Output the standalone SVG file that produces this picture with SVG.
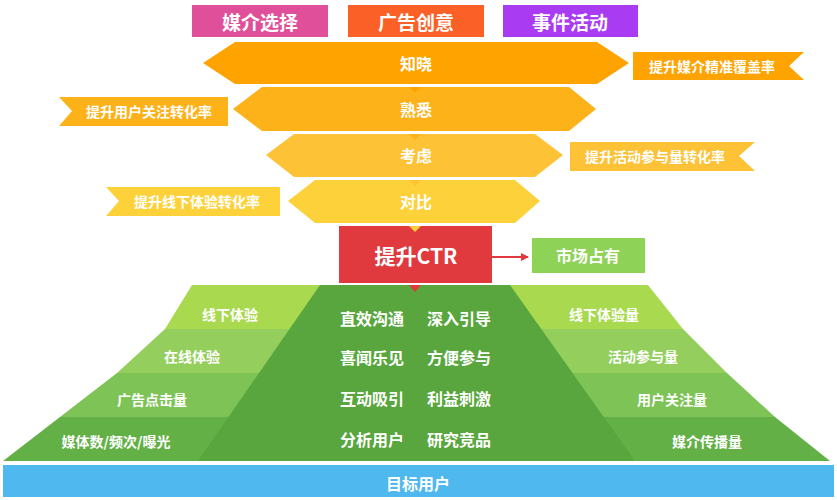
<svg xmlns="http://www.w3.org/2000/svg" width="837" height="500" viewBox="0 0 837 500">
<style>
text{font-family:"Noto Sans CJK SC","Noto Sans",sans-serif;font-weight:bold;fill:#fff;text-anchor:middle;dominant-baseline:central}
.t{font-size:19px}.m{font-size:16px}.s{font-size:14px}.c{font-size:16px}
</style>
<defs><marker id="ah" markerWidth="8" markerHeight="8" refX="7" refY="4" orient="auto" markerUnits="userSpaceOnUse"><path d="M0,0L8,4L0,8z" fill="#e0393e"/></marker></defs>
<g id="top-boxes">
<g id="media"><rect x="192" y="5" width="136" height="32" fill="#e0509a"/><text class="t" x="260" y="21">媒介选择</text></g>
<g id="creative"><rect x="348" y="5" width="136" height="32" fill="#fb6027"/><text class="t" x="416" y="21">广告创意</text></g>
<g id="event"><rect x="503" y="5" width="135" height="32" fill="#a93cf2"/><text class="t" x="570" y="21">事件活动</text></g>
</g>
<g id="funnel">
<g id="zhixiao"><polygon points="203,63 235,42 597,42 629,63 597,84 235,84" fill="#fea300"/><text class="m" x="416" y="63">知晓</text></g>
<g id="shuxi"><polygon points="233,109 262,87 569,87 596,109 569,131 262,131" fill="#fdb219"/><polygon points="409,87 421,87 415,93" fill="#fea300"/><text class="m" x="416" y="109">熟悉</text></g>
<g id="kaolv"><polygon points="266,155 294,134 535,134 563,155 535,177 294,177" fill="#fdc236"/><polygon points="409,134 421,134 415,140" fill="#fdb219"/><text class="m" x="416" y="155">考虑</text></g>
<g id="duibi"><polygon points="288,201 315,180 515,180 540,201 515,223 315,223" fill="#fdd13a"/><polygon points="409,180 421,180 415,186" fill="#fdc236"/><text class="m" x="416" y="201">对比</text></g>
</g>
<g id="side-labels">
<g id="l1"><polygon points="633,52 804,52 789,66 804,80 633,80" fill="#fea300"/><text class="s" x="712" y="66">提升媒介精准覆盖率</text></g>
<g id="l2"><polygon points="59,97 228,97 228,126 59,126 72,111" fill="#fdb219"/><text class="s" x="149" y="111">提升用户关注转化率</text></g>
<g id="l3"><polygon points="570,142 755,142 739,156 755,171 570,171" fill="#fdc236"/><text class="s" x="655" y="156">提升活动参与量转化率</text></g>
<g id="l4"><polygon points="106,187 280,187 280,216 106,216 119,201" fill="#fdd13a"/><text class="s" x="197" y="201">提升线下体验转化率</text></g>
</g>
<g id="ctr"><rect x="339" y="226" width="153" height="57" fill="#e0393e"/><polygon points="409,226 421,226 415,232" fill="#fdd13a"/><text x="416" y="255" style="font-size:21px">提升CTR</text></g>
<g id="market"><rect x="532" y="238" width="113" height="35" fill="#8fd258"/><text class="m" x="588" y="255">市场占有</text></g>
<g id="connectors"><line x1="492" y1="257" x2="528" y2="257" stroke="#e0393e" stroke-width="2" marker-end="url(#ah)"/></g>
<g id="pyramid">
<polygon points="192,285 320,285 306,329 165,329" fill="#a9d94f"/>
<polygon points="165,329 306,329 292,373 117,373" fill="#94cf5e"/>
<polygon points="117,373 292,373 278,417 60,417" fill="#7ec356"/>
<polygon points="60,417 278,417 198,461 3,461" fill="#62b046"/>
<polygon points="510,285 648,285 683,329 524,329" fill="#a9d94f"/>
<polygon points="524,329 683,329 727,373 545,373" fill="#94cf5e"/>
<polygon points="545,373 727,373 775,417 580,417" fill="#7ec356"/>
<polygon points="580,417 775,417 830,461 635,461" fill="#62b046"/>
<polygon points="320,285 510,285 635,461 198,461" fill="#58a63d"/>
<polygon points="409,285 421,285 415,292" fill="#e0393e"/>
<text class="s" x="230" y="314">线下体验</text><text class="s" x="192" y="356">在线体验</text><text class="s" x="152" y="399">广告点击量</text><text class="s" x="116" y="441">媒体数/频次/曝光</text>
<text class="s" x="604" y="314">线下体验量</text><text class="s" x="643" y="356">活动参与量</text><text class="s" x="672" y="399">用户关注量</text><text class="s" x="707" y="441">媒介传播量</text>
<text class="c" x="372" y="318">直效沟通</text><text class="c" x="459" y="318">深入引导</text>
<text class="c" x="372" y="357">喜闻乐见</text><text class="c" x="459" y="357">方便参与</text>
<text class="c" x="372" y="398">互动吸引</text><text class="c" x="459" y="398">利益刺激</text>
<text class="c" x="372" y="439">分析用户</text><text class="c" x="459" y="439">研究竞品</text>
</g>
<g id="target"><rect x="3" y="465" width="831" height="32" fill="#4fb8ee"/><text class="m" x="418" y="483">目标用户</text></g>
</svg>
